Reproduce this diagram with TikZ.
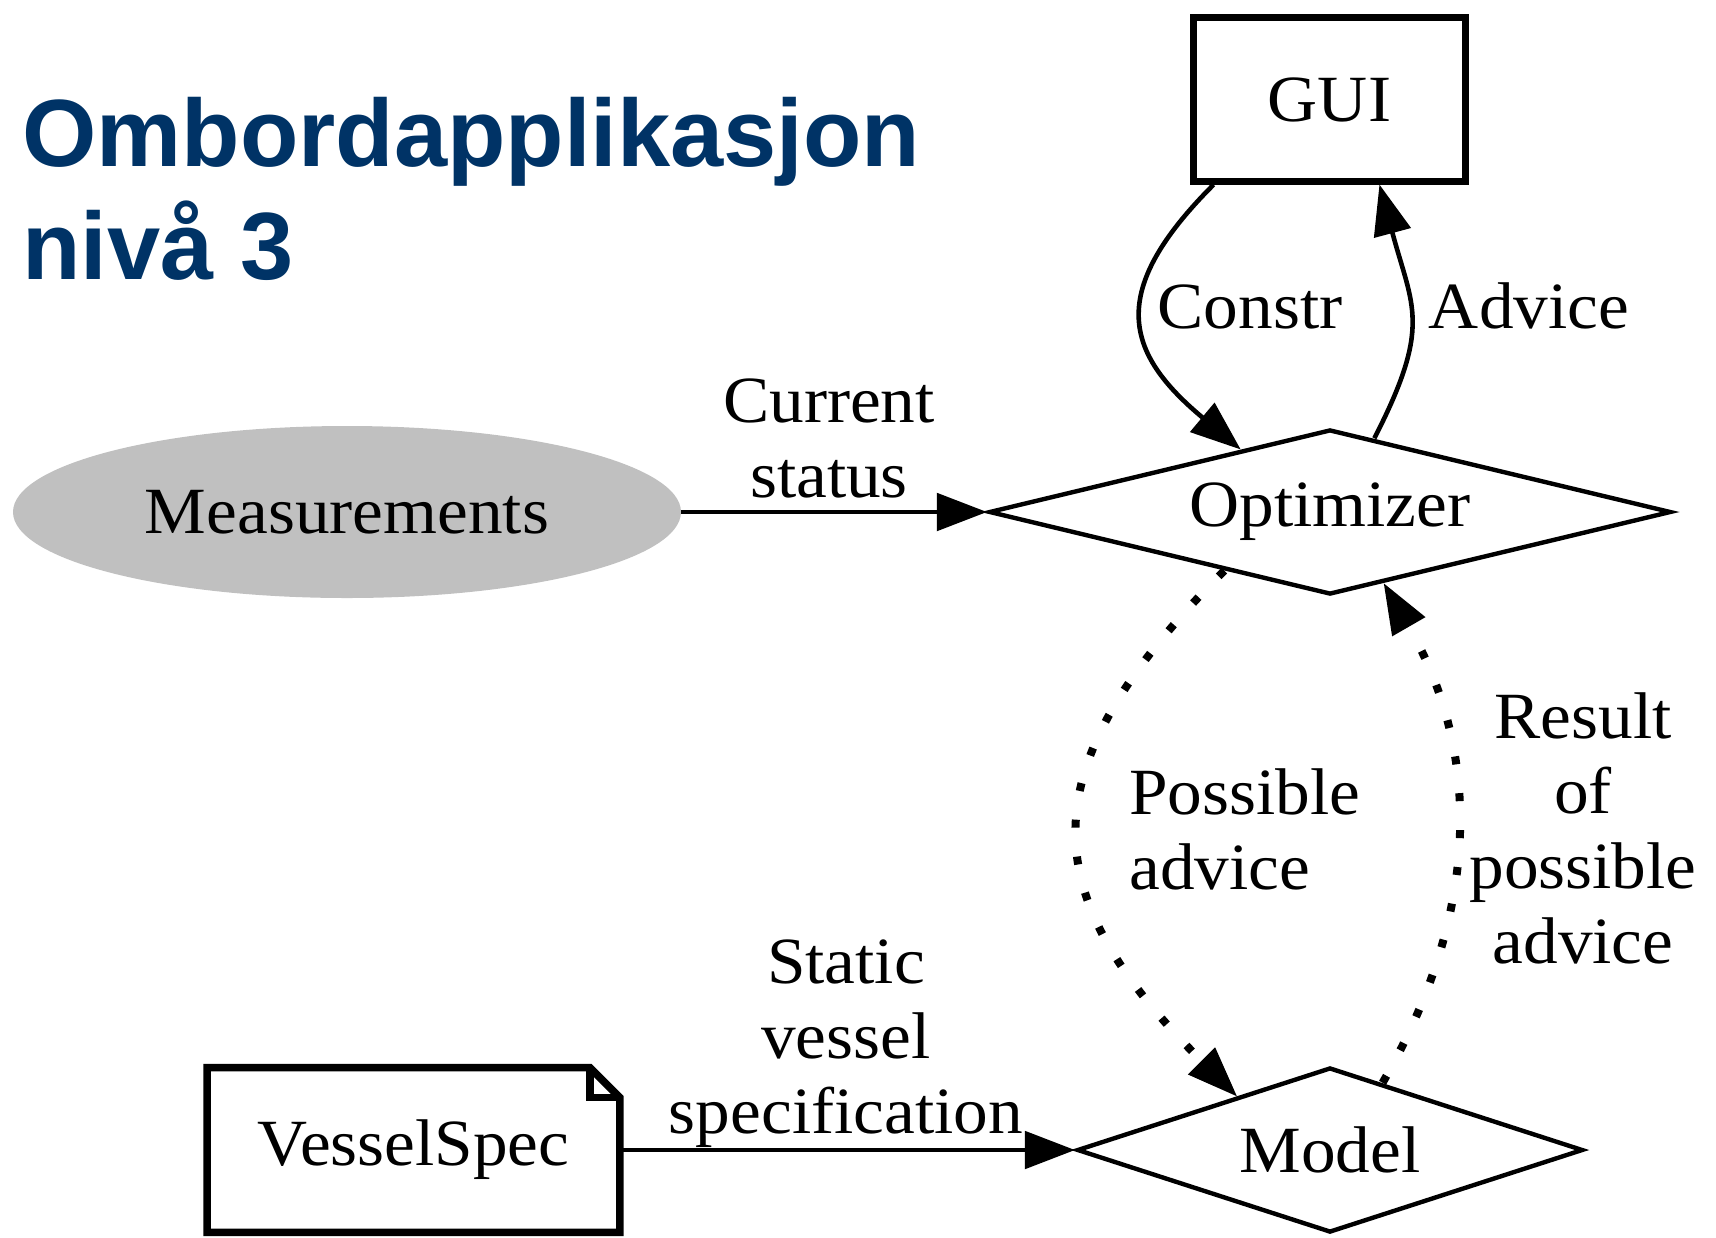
\documentclass[tikz,border=0pt]{standalone}
\usepackage{fontspec}
\setmainfont{Liberation Serif}[FakeStretch=1.05]
\newfontfamily\titlefont{Liberation Sans}
\usetikzlibrary{arrows.meta,shapes.geometric}
\definecolor{titleblue}{RGB}{0,51,102}
\definecolor{measgray}{RGB}{192,192,192}

\begin{document}
\begin{tikzpicture}[x=0.5pt,y=-0.5pt,
  every node/.style={font=\fontsize{33}{37.5}\selectfont},
  flow/.style={line width=2.3pt,-{Triangle[length=25pt,width=19pt,line width=1pt]}},
  dotflow/.style={flow,line width=4pt,dash pattern=on 4pt off 14.5pt},
  lbl/.style={inner sep=0pt,align=center,anchor=base},
  boxnode/.style={draw,line width=3.2pt,inner sep=0pt},
  decide/.style={draw,diamond,line width=2.2pt,inner sep=0pt},
]
\useasboundingbox (0,0) rectangle (1716,1237);

% heading (anchor is the baseline of the last line)
\node[anchor=base west,align=left,inner sep=0pt,text=titleblue,
      font=\titlefont\bfseries\fontsize{47.8}{56.5}\selectfont]
      (title) at (22,279) {Ombordapplikasjon\\nivå 3};

% nodes
\node[boxnode,minimum width=136pt,minimum height=82pt] (gui) at (1329.5,99.5) {GUI};
\node[decide,shape aspect=4.15,minimum width=341pt,minimum height=82.5pt] (opt) at (1330,512) {Optimizer};
\node[ellipse,fill=measgray,minimum width=334pt,minimum height=86pt,inner sep=0pt] (meas) at (347,512) {Measurements};
\node[decide,shape aspect=3.05,minimum width=253pt,minimum height=82.5pt] (model) at (1330,1150) {Model};
\node[minimum width=206pt,minimum height=82pt,inner sep=0pt] (vs) at (413.5,1150) {VesselSpec};

% note outline with folded corner
\draw[line width=3.8pt,line join=miter]
  (vs.south west) -- (vs.north west) -- ([xshift=-15pt]vs.north east)
  -- ([yshift=-15pt]vs.north east) -- (vs.south east) -- cycle;
\draw[line width=3.8pt]
  ([xshift=-15pt]vs.north east) |- ([yshift=-15pt]vs.north east);

% connectors
\draw[flow] (meas.east) -- (opt.west);
\draw[flow] (vs.east) -- (model.west);
\draw[flow] ([xshift=-58pt]gui.south) .. controls +(-107,107) and +(-116,-97) .. (opt.145.3);
\draw[flow] (opt.59.8) .. controls +(58,-113) and +(33,123) .. ([xshift=25pt]gui.south);
\draw[dotflow] (opt.209.6) .. controls +(-201,201) and +(-201,-201) .. (model.150.8);
\draw[dotflow] (model.52.7) .. controls +(98,-170) and +(98,170) .. (opt.307.3);

% connector labels (anchor is the baseline of the last line)
\node[lbl] (lcur) at (829,497) {Current\\status};
\node[lbl] (lcon) at (1250,328) {Constr};
\node[lbl] (ladv) at (1529,328) {Advice};
\node[lbl,align=left,anchor=base west] (lpos) at (1129,889) {Possible\\advice};
\node[lbl] (lres) at (1583,963) {Result\\of\\possible\\advice};
\node[lbl] (lsta) at (846,1133) {Static\\vessel\\specification};
\end{tikzpicture}
\end{document}
